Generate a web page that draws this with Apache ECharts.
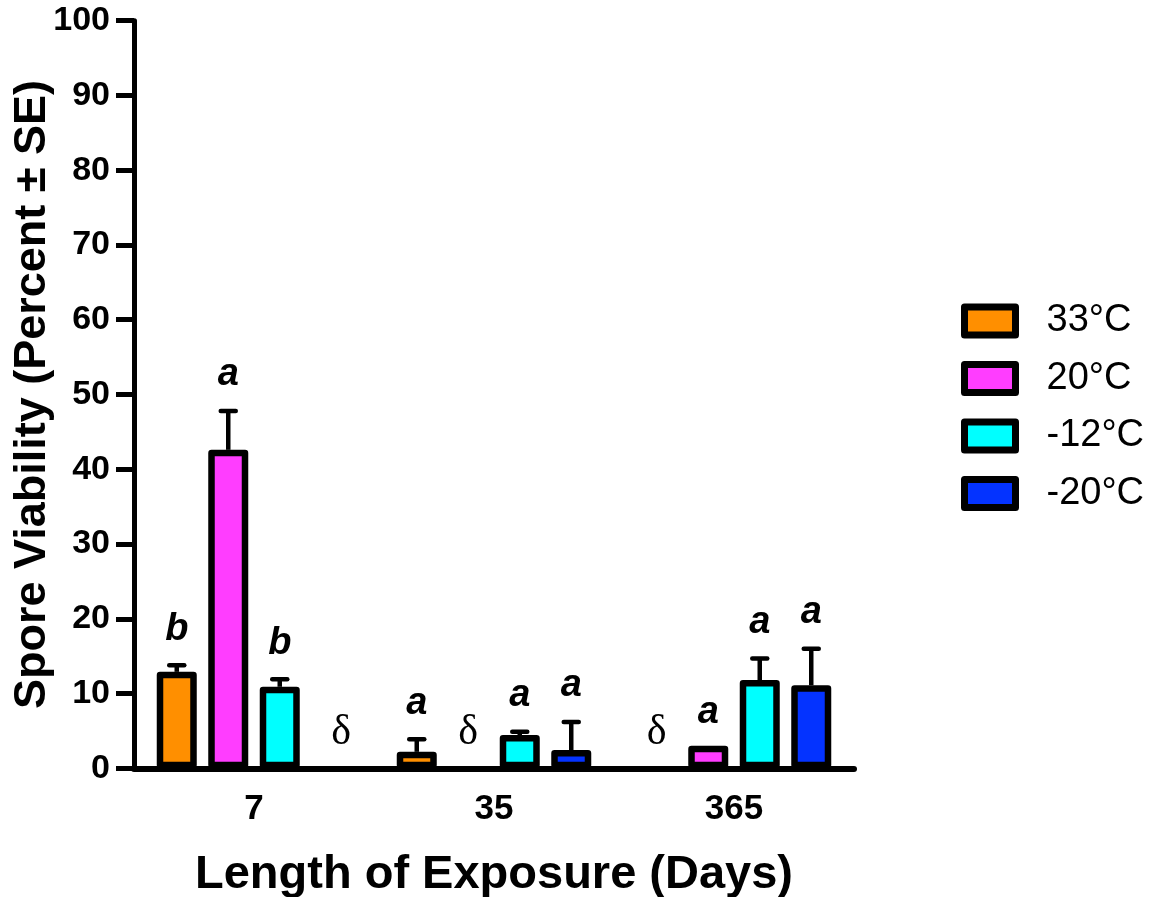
<!DOCTYPE html>
<html><head><meta charset="utf-8">
<script src="https://cdn.jsdelivr.net/npm/echarts@6/dist/echarts.min.js"></script>
<style>html,body{margin:0;padding:0;background:#fff}#c{width:1153px;height:897px}</style>
</head><body><div id="c"></div>
<script>
// ---- data ----
const categories = ['7', '35', '365'];
const seriesNames = ['33°C', '20°C', '-12°C', '-20°C'];
const colors = ['#FF8F00', '#FF3DFF', '#00FFFF', '#0433FF'];

const mean33 = [12.9, 2.2, null];
const se33 = [0.9, 1.7, null];
const letters33 = ['b', 'a', ''];

const mean20 = [42.6, null, 3.0];
const se20 = [5.2, null, 0];
const letters20 = ['a', '', 'a'];

const meanM12 = [10.9, 4.45, 11.8];
const seM12 = [1.0, 0.45, 2.9];
const lettersM12 = ['b', 'a', 'a'];

const meanM20 = [null, 2.45, 11.1];
const seM20 = [null, 3.75, 4.9];
const lettersM20 = ['', 'a', 'a'];

const missingMark = 'δ';

// ---- build ----
const means = [mean33, mean20, meanM12, meanM20];
const ses = [se33, se20, seM12, seM20];
const letters = [letters33, letters20, lettersM12, lettersM20];

const BAR_W = 40;
const BAR_GAP = 0.2875;
const FONT = '"Liberation Sans", Arial, sans-serif';

const barSeries = seriesNames.map((name, s) => ({
  name, type: 'bar',
  barWidth: BAR_W, barGap: (BAR_GAP * 100) + '%',
  data: means[s].map(v => v == null ? '-' : v),
  itemStyle: { color: colors[s], borderColor: '#000', borderWidth: 6.5, borderJoin: 'round' },
  emphasis: { disabled: true },
  z: 2
}));

const overlayData = [];
for (let s = 0; s < 4; s++) for (let c = 0; c < categories.length; c++) overlayData.push([c, s]);

function renderItem(params, api) {
  const c = api.value(0), s = api.value(1);
  const m = means[s][c], e = ses[s][c], letter = letters[s][c];
  const off = (s - 1.5) * BAR_W * (1 + BAR_GAP);
  const base = api.coord([c, 0]);
  const x = base[0] + off;
  const children = [];
  if (m == null) {
    children.push({ type: 'text', style: { text: missingMark, x: x + (c === 0 ? 10 : 0), y: base[1] - 35, align: 'center', verticalAlign: 'middle', font: '42px "Liberation Serif", "Times New Roman", serif', fill: '#000' } });
  } else {
    const top = api.coord([c, m])[1];
    const cap = api.coord([c, m + e])[1];
    if (e > 0) {
      children.push({ type: 'line', shape: { x1: x, y1: top, x2: x, y2: cap }, style: { stroke: '#000', lineWidth: 4.5 } });
      children.push({ type: 'line', shape: { x1: x - 7.5, y1: cap, x2: x + 7.5, y2: cap }, style: { stroke: '#000', lineWidth: 4.5, lineCap: 'round' } });
    }
    if (letter) {
      const ly = e > 0 ? cap - 36 : top - 33;
      children.push({ type: 'text', style: { text: letter, x: x, y: ly, align: 'center', verticalAlign: 'middle', font: 'italic bold 38px ' + FONT, fill: '#000' } });
    }
  }
  return { type: 'group', children };
}

const chart = echarts.init(document.getElementById('c'));
chart.setOption({
  animation: false,
  backgroundColor: '#fff',
  grid: { left: 134, right: 299, top: 20.7, bottom: 128.7, containLabel: false, outerBoundsMode: 'none' },
  legend: {
    data: seriesNames, orient: 'vertical', left: 961, top: 302, padding: 0,
    icon: 'rect', itemWidth: 51, itemHeight: 28, itemGap: 19.5,
    itemStyle: { borderColor: '#000', borderWidth: 7 },
    textStyle: { fontFamily: FONT, fontSize: 38, color: '#000', padding: [0, 0, 0, 26], lineHeight: 37 },
    selectedMode: false
  },
  xAxis: {
    type: 'category', data: categories,
    axisLine: { lineStyle: { color: '#000', width: 6 } },
    axisTick: { alignWithLabel: true, length: 14, lineStyle: { color: '#000', width: 5 } },
    axisLabel: { margin: 24, color: '#000', fontFamily: FONT, fontWeight: 'bold', fontSize: 35 },
    name: 'Length of Exposure (Days)', nameLocation: 'middle', nameGap: 83, nameMoveOverlap: false,
    nameTextStyle: { color: '#000', fontFamily: FONT, fontWeight: 'bold', fontSize: 47 }
  },
  yAxis: {
    type: 'value', min: 0, max: 100, interval: 10,
    axisLine: { show: true, lineStyle: { color: '#000', width: 5 } },
    axisTick: { show: true, length: 18, lineStyle: { color: '#000', width: 5 } },
    splitLine: { show: false },
    axisLabel: { margin: 24, color: '#000', fontFamily: FONT, fontWeight: 'bold', fontSize: 34 },
    name: 'Spore Viability (Percent ± SE)', nameLocation: 'middle', nameGap: 79, nameRotate: 90, nameMoveOverlap: false,
    nameTextStyle: { color: '#000', fontFamily: FONT, fontWeight: 'bold', fontSize: 45 }
  },
  series: barSeries.concat([{
    type: 'custom', name: 'overlay', renderItem, data: overlayData,
    encode: { x: 0, y: 1 }, z: 5, silent: true, clip: false
  }])
});
</script></body></html>
